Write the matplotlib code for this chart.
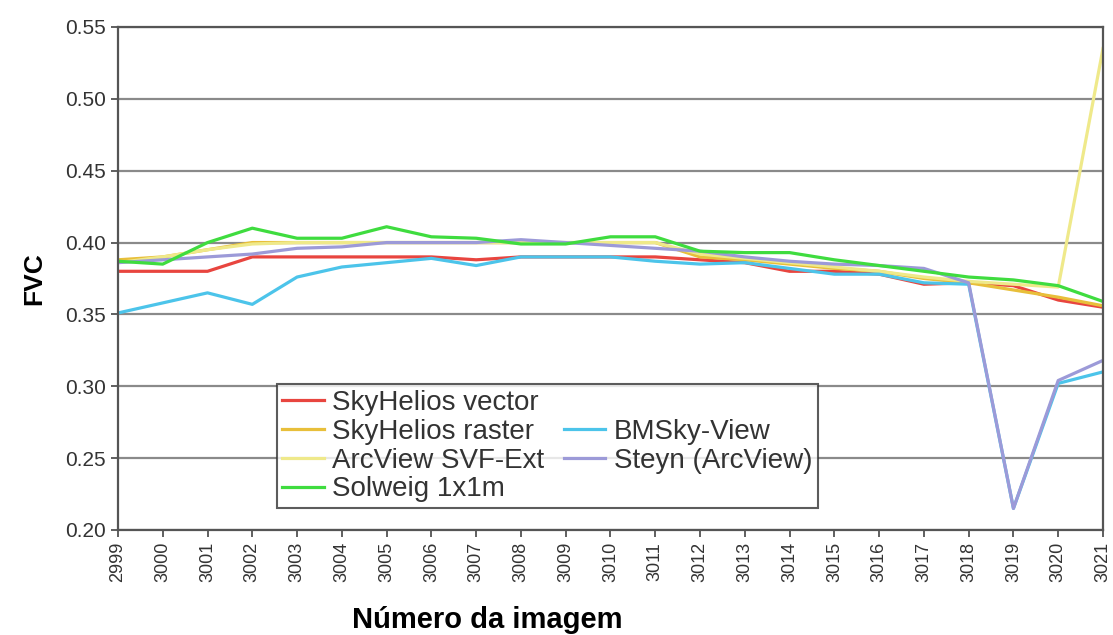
import matplotlib
matplotlib.use("Agg")
import matplotlib.pyplot as plt
from matplotlib.lines import Line2D

plt.rcParams['font.family'] = ['Liberation Sans', 'DejaVu Sans']

images = [str(n) for n in range(2999, 3022)]

skyhelios_vector = [0.380, 0.380, 0.380, 0.390, 0.390, 0.390, 0.390, 0.390, 0.388, 0.390,
                    0.390, 0.390, 0.390, 0.388, 0.386, 0.380, 0.380, 0.378, 0.371, 0.372,
                    0.370, 0.360, 0.355]
skyhelios_raster = [0.388, 0.390, 0.395, 0.400, 0.400, 0.400, 0.400, 0.400, 0.400, 0.400,
                    0.400, 0.400, 0.400, 0.390, 0.388, 0.385, 0.382, 0.380, 0.375, 0.372,
                    0.367, 0.362, 0.356]
arcview_svf = [0.386, 0.390, 0.395, 0.399, 0.400, 0.400, 0.400, 0.400, 0.400, 0.400,
               0.400, 0.400, 0.400, 0.392, 0.389, 0.386, 0.383, 0.380, 0.376, 0.373,
               0.371, 0.369, 0.535]
solweig = [0.387, 0.385, 0.400, 0.410, 0.403, 0.403, 0.411, 0.404, 0.403, 0.399,
           0.399, 0.404, 0.404, 0.394, 0.393, 0.393, 0.388, 0.384, 0.380, 0.376,
           0.374, 0.370, 0.359]
bmsky_view = [0.351, 0.358, 0.365, 0.357, 0.376, 0.383, 0.386, 0.389, 0.384, 0.390,
              0.390, 0.390, 0.387, 0.385, 0.386, 0.382, 0.378, 0.378, 0.372, 0.371,
              0.215, 0.302, 0.310]
steyn = [0.386, 0.388, 0.390, 0.392, 0.396, 0.397, 0.400, 0.400, 0.400, 0.402,
         0.400, 0.398, 0.396, 0.394, 0.390, 0.387, 0.385, 0.384, 0.382, 0.372,
         0.215, 0.304, 0.318]

fig = plt.figure(figsize=(11.13, 6.35), dpi=100)
ax = fig.add_axes([0.106, 0.1654, 0.885, 0.7921])

x = list(range(len(images)))


def draw(vals, color, label, lw=2.3):
    return ax.plot(x, vals, color=color, lw=lw, label=label, solid_joinstyle='round')[0]


h_vec = draw(skyhelios_vector, "#e8453f", "SkyHelios vector")
h_ras = draw(skyhelios_raster, "#e8bf3a", "SkyHelios raster")
h_arc = draw(arcview_svf, "#efe98a", "ArcView SVF-Ext")
h_bms = draw(bmsky_view, "#4cc4ea", "BMSky-View")
h_sty = draw(steyn, "#9c9ad8", "Steyn (ArcView)")
h_sol = draw(solweig, "#3fdc3f", "Solweig 1x1m")

ax.set_xlim(0, len(images) - 1)
ax.set_ylim(0.20, 0.55)
yt = [0.20, 0.25, 0.30, 0.35, 0.40, 0.45, 0.50, 0.55]
ax.set_yticks(yt)
ax.set_yticklabels([f"{v:.2f}" for v in yt], fontsize=15, color="#333333")
ax.set_xticks(x)
ax.set_xticklabels(images, rotation=90, fontsize=13, color="#333333")
ax.tick_params(axis='both', direction='out', length=5, width=1.2, color="#444444")
ax.yaxis.grid(True, color="#8a8a8a", lw=1.6)
ax.set_axisbelow(True)
for s in ax.spines.values():
    s.set_color("#555555")
    s.set_linewidth(1.6)

ax.set_ylabel("FVC", fontsize=19, fontweight='bold', labelpad=14)
fig.text(0.438, 0.024, "Número da imagem", fontsize=21, fontweight='bold',
         ha='center', va='center')

blank = Line2D([], [], color='none')
handles = [h_vec, h_ras, h_arc, h_sol, blank, h_bms, h_sty, blank]
labels = ["SkyHelios vector", "SkyHelios raster", "ArcView SVF-Ext", "Solweig 1x1m",
          "", "BMSky-View", "Steyn (ArcView)", ""]
leg = ax.legend(handles, labels, ncol=2, loc='lower left', bbox_to_anchor=(0.161, 0.044),
                fontsize=20, frameon=True, fancybox=False, edgecolor="#333333",
                labelspacing=0.1, handlelength=1.5, handletextpad=0.3, columnspacing=0.7,
                borderpad=0.2, borderaxespad=0)
leg.get_frame().set_linewidth(1.5)
for t in leg.get_texts():
    t.set_color("#333333")

fig.savefig("out.png", dpi=100, facecolor="white")
